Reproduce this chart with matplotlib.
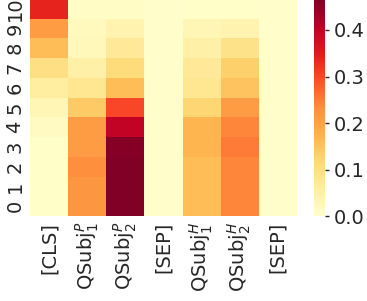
import numpy as np
import matplotlib
matplotlib.use("Agg")
import matplotlib.pyplot as plt
import seaborn as sns

columns = ["[CLS]", r"QSubj$_1^P$", r"QSubj$_2^P$", "[SEP]", r"QSubj$_1^H$", r"QSubj$_2^H$", "[SEP]"]
layers = [str(i) for i in range(11)]

# values per column, layer 0..10
cls_vals   = [0.004, 0.004, 0.005, 0.006, 0.015, 0.03, 0.06, 0.10, 0.16, 0.21, 0.34]
qp1_vals   = [0.22, 0.22, 0.23, 0.21, 0.21, 0.14, 0.08, 0.05, 0.025, 0.02, 0.01]
qp2_vals   = [0.47, 0.47, 0.47, 0.46, 0.40, 0.30, 0.16, 0.11, 0.07, 0.04, 0.01]
sep1_vals  = [0.003] * 11
qh1_vals   = [0.16, 0.16, 0.16, 0.17, 0.17, 0.12, 0.08, 0.07, 0.05, 0.03, 0.005]
qh2_vals   = [0.24, 0.24, 0.24, 0.25, 0.24, 0.21, 0.15, 0.13, 0.09, 0.04, 0.005]
sep2_vals  = [0.002] * 11

data = np.array([cls_vals, qp1_vals, qp2_vals, sep1_vals, qh1_vals, qh2_vals, sep2_vals]).T

fig = plt.figure(figsize=(3.67, 3.01), dpi=100)
ax = fig.add_axes([0.082, 0.282, 0.727, 0.722])
cax = fig.add_axes([0.856, 0.282, 0.030, 0.722])

sns.heatmap(data, ax=ax, cbar_ax=cax, cmap="YlOrRd", vmin=0, vmax=0.467,
            xticklabels=columns, yticklabels=layers)
ax.invert_yaxis()
tc = "#262626"
ax.tick_params(axis="both", length=0, labelsize=14, colors=tc, pad=4)
ax.set_xticklabels(columns, rotation=90)
ax.set_yticklabels(layers, rotation=90, va="center")
cax.tick_params(labelsize=14, colors=tc, length=3, width=1)
cax.set_yticks([0.0, 0.1, 0.2, 0.3, 0.4])
for s in cax.spines.values():
    s.set_visible(False)

fig.savefig("out.png", dpi=100)
